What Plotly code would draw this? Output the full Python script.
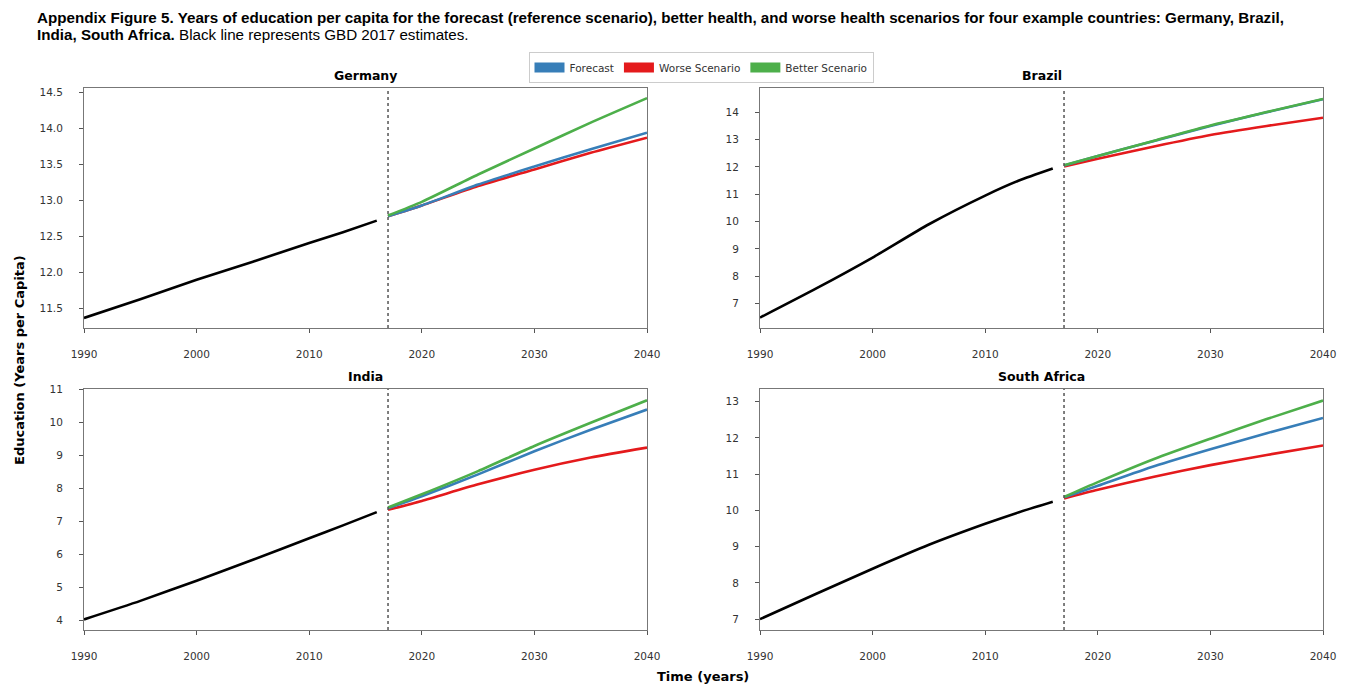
import plotly.graph_objects as go
from plotly.subplots import make_subplots

countries = ["Germany", "Brazil", "India", "South Africa"]
hist_years = [1990, 1995, 2000, 2005, 2010, 2013, 2016]
fc_years = [2017, 2020, 2025, 2030, 2035, 2040]

# GBD 2017 estimates (black line)
germany_hist = [11.37, 11.63, 11.90, 12.15, 12.41, 12.56, 12.72]
brazil_hist = [6.48, 7.55, 8.68, 9.90, 10.95, 11.50, 11.94]
india_hist = [4.04, 4.60, 5.21, 5.84, 6.49, 6.88, 7.28]
safrica_hist = [7.00, 7.70, 8.39, 9.05, 9.63, 9.95, 10.24]

# Forecast (reference scenario)
germany_fc = [12.78, 12.93, 13.22, 13.47, 13.71, 13.94]
brazil_fc = [12.05, 12.40, 12.95, 13.50, 14.00, 14.48]
india_fc = [7.40, 7.76, 8.42, 9.12, 9.77, 10.38]
safrica_fc = [10.36, 10.68, 11.22, 11.69, 12.13, 12.55]

# Worse health scenario
germany_worse = [12.78, 12.93, 13.20, 13.43, 13.66, 13.87]
brazil_worse = [12.02, 12.30, 12.75, 13.17, 13.50, 13.80]
india_worse = [7.35, 7.62, 8.12, 8.56, 8.93, 9.23]
safrica_worse = [10.33, 10.57, 10.93, 11.25, 11.53, 11.79]

# Better health scenario
germany_better = [12.79, 12.98, 13.36, 13.72, 14.08, 14.42]
brazil_better = [12.06, 12.40, 12.96, 13.52, 14.01, 14.49]
india_better = [7.42, 7.82, 8.52, 9.28, 9.98, 10.66]
safrica_better = [10.37, 10.78, 11.42, 11.98, 12.52, 13.03]

y_ranges = [[11.23, 14.56], [6.10, 14.89], [3.72, 11.0], [6.70, 13.35]]
y_ticks = [
    [11.5, 12.0, 12.5, 13.0, 13.5, 14.0, 14.5],
    [7, 8, 9, 10, 11, 12, 13, 14],
    [4, 5, 6, 7, 8, 9, 10, 11],
    [7, 8, 9, 10, 11, 12, 13],
]
y_tickformats = [".1f", "d", "d", "d"]
x_ticks = [1990, 2000, 2010, 2020, 2030, 2040]

hist = [germany_hist, brazil_hist, india_hist, safrica_hist]
fc = [germany_fc, brazil_fc, india_fc, safrica_fc]
worse = [germany_worse, brazil_worse, india_worse, safrica_worse]
better = [germany_better, brazil_better, india_better, safrica_better]

C_FC = "#377eb8"
C_WORSE = "#e41a1c"
C_BETTER = "#4daf4a"

# page offset (body margin) and figure size
OX, OY = 8, 8
W, H = 1348, 680


def px(x):
    return (x - OX) / W


def py(y):
    return (H - (y - OY)) / H


fig = make_subplots(rows=2, cols=2)

positions = [(1, 1), (1, 2), (2, 1), (2, 2)]
for i, (r, c) in enumerate(positions):
    fig.add_trace(go.Scatter(x=hist_years, y=hist[i], mode="lines",
                             line=dict(color="black", width=2.6, shape="spline", smoothing=0.6),
                             showlegend=False, hoverinfo="skip"), row=r, col=c)
    fig.add_trace(go.Scatter(x=fc_years, y=worse[i], mode="lines",
                             line=dict(color=C_WORSE, width=2.6, shape="spline", smoothing=0.6),
                             showlegend=False), row=r, col=c)
    fig.add_trace(go.Scatter(x=fc_years, y=fc[i], mode="lines",
                             line=dict(color=C_FC, width=2.6, shape="spline", smoothing=0.6),
                             showlegend=False), row=r, col=c)
    fig.add_trace(go.Scatter(x=fc_years, y=better[i], mode="lines",
                             line=dict(color=C_BETTER, width=2.6, shape="spline", smoothing=0.6),
                             showlegend=False), row=r, col=c)
    fig.add_vline(x=2017, line=dict(color="#555555", dash="dot", width=1.5), row=r, col=c)

# legend entries
for name, col in [("Forecast", C_FC), ("Worse Scenario", C_WORSE), ("Better Scenario", C_BETTER)]:
    fig.add_trace(go.Scatter(x=[None], y=[None], mode="lines", name=name,
                             line=dict(color=col, width=10), showlegend=True))

# domains in screen pixels
xdoms = [(84, 647), (760, 1323)]
ydoms = [(88, 328), (389, 630)]
tickfont = dict(family="DejaVu Sans", size=10.5, color="#333333")
for i, (r, c) in enumerate(positions):
    x0, x1 = xdoms[c - 1]
    t, b = ydoms[r - 1]
    ax = "" if i == 0 else str(i + 1)
    fig.layout["xaxis" + ax].update(
        domain=[px(x0), px(x1)], range=[1990, 2040], tickvals=x_ticks, automargin=False,
        showline=True, mirror=True, linecolor="#777777", linewidth=1,
        ticks="outside", ticklen=4, tickcolor="#555555", showgrid=False, zeroline=False,
        tickfont=tickfont, ticklabelstandoff=12)
    fig.layout["yaxis" + ax].update(
        domain=[py(b), py(t)], range=y_ranges[i], tickvals=y_ticks[i],
        tickformat=y_tickformats[i], automargin=False,
        showline=True, mirror=True, linecolor="#777777", linewidth=1,
        ticks="outside", ticklen=4, tickcolor="#555555", showgrid=False, zeroline=False,
        tickfont=tickfont, ticklabelstandoff=14)
    fig.add_annotation(text="<b>%s</b>" % countries[i], xref="x%s domain" % ax,
                       yref="paper", x=0.5, y=py(t - 3), yanchor="bottom",
                       showarrow=False, font=dict(family="DejaVu Sans", size=12.5, color="black"))

title_font = dict(family="Liberation Sans", size=15.2, color="black")
fig.add_annotation(
    text="<b>Appendix Figure 5. Years of education per capita for the forecast (reference scenario), better health, and worse health scenarios for four example countries: Germany, Brazil,</b>",
    xref="paper", yref="paper", x=px(36), y=py(18), xanchor="left", yanchor="middle",
    align="left", showarrow=False, borderpad=0, font=title_font)
fig.add_annotation(
    text="<b>India, South Africa.</b> Black line represents GBD 2017 estimates.",
    xref="paper", yref="paper", x=px(36), y=py(34.5), xanchor="left", yanchor="middle",
    align="left", showarrow=False, borderpad=0, font=title_font)

fig.add_annotation(text="<b>Time (years)</b>", xref="paper", yref="paper",
                   x=px(703), y=py(676), yanchor="middle", showarrow=False,
                   font=dict(family="DejaVu Sans", size=13, color="black"))
fig.add_annotation(text="<b>Education (Years per Capita)</b>", xref="paper", yref="paper",
                   x=px(20), y=py(360), textangle=-90, xanchor="center", yanchor="middle",
                   showarrow=False, font=dict(family="DejaVu Sans", size=13, color="black"))

fig.update_layout(
    width=W, height=H, margin=dict(l=0, r=0, t=0, b=0, autoexpand=False),
    paper_bgcolor="white", plot_bgcolor="white",
    legend=dict(orientation="h", x=px(701), xanchor="center", y=py(52), yanchor="top",
                bordercolor="#cccccc", borderwidth=1, font=dict(family="DejaVu Sans", size=10.5, color="#333333"),
                itemwidth=30, tracegroupgap=0),
    showlegend=True,
)

fig.write_html("out.html")
